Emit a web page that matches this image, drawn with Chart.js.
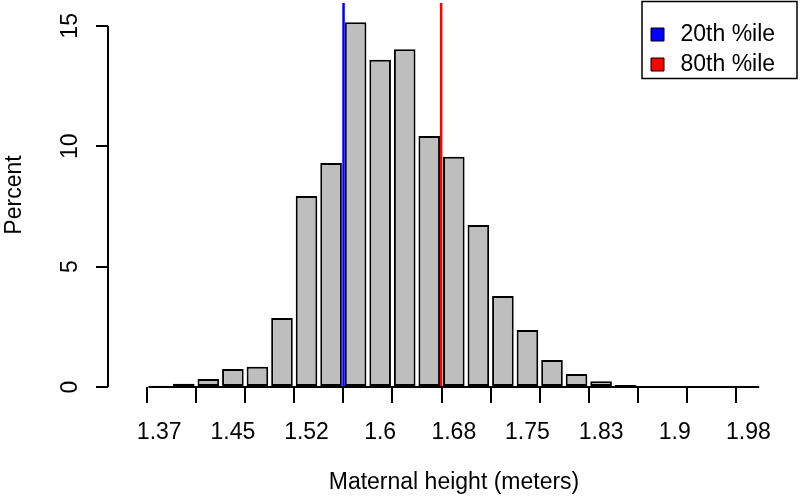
<!DOCTYPE html>
<html><head><meta charset="utf-8">
<script src="https://cdn.jsdelivr.net/npm/chart.js@4"></script>
<style>html,body{margin:0;padding:0;background:#fff}</style>
</head><body>
<canvas id="c" width="800" height="504"></canvas>
<script>
// Bin centres (maternal height, meters) — 1-inch bins
const HEIGHTS = [1.3716, 1.3970, 1.4224, 1.4478, 1.4732, 1.4986, 1.5240, 1.5494, 1.5748, 1.6002,
                 1.6256, 1.6510, 1.6764, 1.7018, 1.7272, 1.7526, 1.7780, 1.8034, 1.8288, 1.8542,
                 1.8796, 1.9050, 1.9304, 1.9558, 1.9812];
// Percent of mothers in each bin
const PERCENT = [0.05, 0.13, 0.33, 0.75, 0.84, 2.87, 7.93, 9.30, 15.15, 13.59,
                 14.03, 10.43, 9.56, 6.73, 3.78, 2.37, 1.12, 0.54, 0.24, 0.08,
                 0.04, 0.02, 0.02, 0.01, 0.01];
// Axis labels shown under every third bin
const TICK_LABELS = ['1.37', '1.45', '1.52', '1.6', '1.68', '1.75', '1.83', '1.9', '1.98'];
const Y_TICKS = [0, 5, 10, 15];
// Percentile reference lines
const PCT_NAMES = ['20th %ile', '80th %ile'];
const PCT_VALUES = [1.5623, 1.6633];
const PCT_COLORS = ['#0000ff', '#ff0000'];

const X_MIN = 1.3329, X_MAX = 2.0203;
const Y_MIN = 0, Y_MAX = 15.95;

Chart.defaults.font.family = '"Liberation Sans", Arial, Helvetica, sans-serif';
Chart.defaults.font.size = 23;
Chart.defaults.color = '#000';

const datasets = [{
  type: 'bar',
  label: 'Percent',
  data: HEIGHTS.map((h, i) => ({x: h, y: PERCENT[i]})),
  backgroundColor: '#bebebe',
  borderColor: '#000',
  borderWidth: 2,
  borderSkipped: false,
  categoryPercentage: 0.88,
  barPercentage: 1.0,
  order: 2
}];
PCT_VALUES.forEach((v, k) => {
  datasets.push({
    type: 'line',
    label: PCT_NAMES[k],
    data: [{x: v, y: Y_MIN}, {x: v, y: Y_MAX}],
    borderColor: PCT_COLORS[k],
    backgroundColor: PCT_COLORS[k],
    borderWidth: 2.5,
    pointRadius: 0,
    fill: false,
    order: 1
  });
});

function noPad(scale) {
  scale.paddingLeft = 0; scale.paddingRight = 0;
  scale.paddingTop = 0; scale.paddingBottom = 0;
}

const rStyle = {
  id: 'rStyle',
  afterLayout(chart) {
    const lg = chart.legend;
    lg.left = 639; lg.top = 13.5; lg.width = 160; lg.height = 72;
    lg.right = lg.left + lg.width; lg.bottom = lg.top + lg.height;
  },
  afterDatasetsDraw(chart) {
    const ctx = chart.ctx;
    const ys = chart.scales.y;
    const meta = chart.getDatasetMeta(0);
    const first = meta.data[0], last = meta.data[meta.data.length - 1];
    const y0 = ys.getPixelForValue(0);
    ctx.save();
    ctx.strokeStyle = '#000';
    ctx.lineWidth = 2;
    ctx.beginPath();
    ctx.moveTo(first.x - first.width / 2, y0);
    ctx.lineTo(last.x + last.width / 2, y0);
    ctx.stroke();
    ctx.restore();
  },
  afterDraw(chart) {
    const ctx = chart.ctx;
    const ys = chart.scales.y;
    const t = ys.ticks;
    ctx.save();
    ctx.strokeStyle = '#000';
    ctx.lineWidth = 2;
    ctx.beginPath();
    ctx.moveTo(chart.chartArea.left, ys.getPixelForValue(t[0].value));
    ctx.lineTo(chart.chartArea.left, ys.getPixelForValue(t[t.length - 1].value));
    ctx.stroke();
    // legend frame
    ctx.lineWidth = 1.5;
    ctx.strokeRect(642, 1.5, 155, 77);
    ctx.restore();
  }
};

new Chart(document.getElementById('c'), {
  type: 'bar',
  data: { datasets },
  options: {
    responsive: false,
    animation: false,
    devicePixelRatio: 1,
    events: [],
    layout: { padding: { top: 3, left: 0, right: 0, bottom: 0 } },
    plugins: {
      legend: {
        position: 'chartArea',
        labels: {
          usePointStyle: true,
          pointStyle: 'rect',
          boxWidth: 40,
          boxHeight: 13,
          padding: 7,
          font: { size: 23 },
          color: '#000',
          generateLabels(chart) {
            const items = Chart.defaults.plugins.legend.labels.generateLabels(chart);
            return items.filter(it => it.datasetIndex > 0).map(it => Object.assign(it, {
              fillStyle: chart.data.datasets[it.datasetIndex].borderColor,
              strokeStyle: '#000',
              lineWidth: 1,
              pointStyle: 'rect'
            }));
          }
        }
      },
      tooltip: { enabled: false }
    },
    scales: {
      x: {
        type: 'linear',
        min: X_MIN,
        max: X_MAX,
        afterBuildTicks(scale) { scale.ticks = HEIGHTS.map(v => ({ value: v })); },
        afterFit(scale) { scale.height = 117; noPad(scale); },
        border: { display: false },
        grid: {
          drawOnChartArea: false,
          drawTicks: true,
          tickLength: 16,
          lineWidth: 2,
          color: ctx => (ctx.index % 2 === 0 ? '#000' : 'rgba(0,0,0,0)')
        },
        ticks: {
          autoSkip: false,
          maxRotation: 0,
          minRotation: 0,
          padding: 16,
          font: { size: 23 },
          color: '#000',
          callback: (v, i) => (i % 3 === 0 ? TICK_LABELS[i / 3] : '')
        },
        title: {
          display: true,
          text: 'Maternal height (meters)',
          font: { size: 23 },
          color: '#000',
          padding: { top: 0, bottom: 8 }
        }
      },
      y: {
        type: 'linear',
        min: Y_MIN,
        max: Y_MAX,
        afterBuildTicks(scale) { scale.ticks = Y_TICKS.map(v => ({ value: v })); },
        afterFit(scale) { scale.width = 108; noPad(scale); },
        border: { display: false },
        grid: {
          drawOnChartArea: false,
          drawTicks: true,
          tickLength: 12,
          lineWidth: 2,
          color: '#000'
        },
        ticks: {
          minRotation: 90,
          maxRotation: 90,
          crossAlign: 'center',
          padding: 13,
          font: { size: 23 },
          color: '#000'
        },
        title: {
          display: true,
          text: 'Percent',
          font: { size: 23 },
          color: '#000',
          padding: { top: 1, bottom: 0 }
        }
      }
    }
  },
  plugins: [rStyle]
});
</script>
</body></html>
